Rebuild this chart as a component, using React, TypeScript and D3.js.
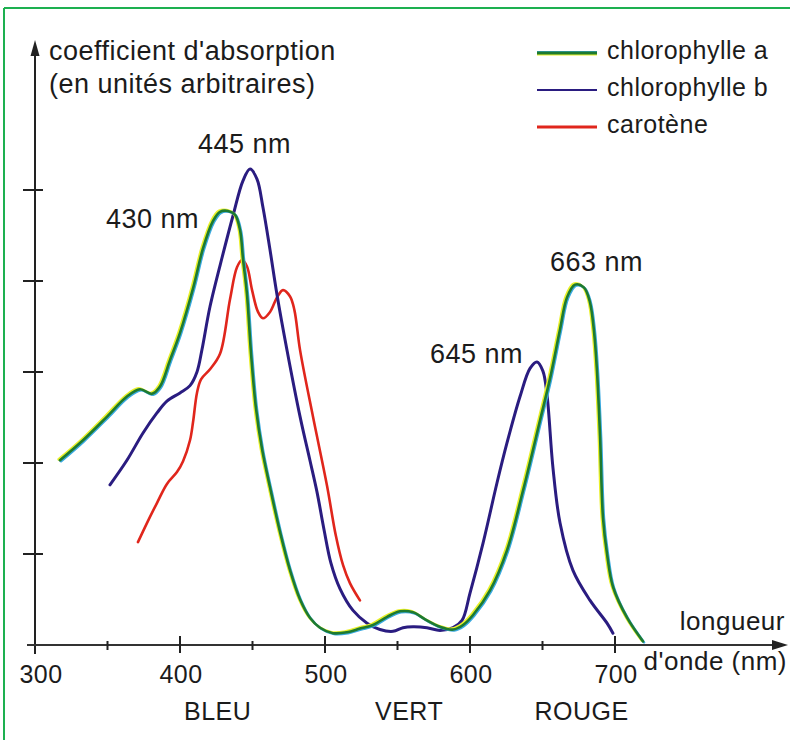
import React from "react";
import * as d3 from "d3";

// wavelength (nm), absorption (arbitrary units)
const chlA: [number, number][] = [
  [317.2, 2.03], [333.1, 2.25], [349.7, 2.51], [363.4, 2.73], [372.4, 2.81],
  [380.7, 2.76], [386.2, 2.84], [393.1, 3.13], [400, 3.43], [409, 3.92],
  [415.9, 4.36], [422.8, 4.66], [427.6, 4.76], [433.1, 4.77], [437.9, 4.73],
  [441.4, 4.56], [443.4, 4.25], [446.2, 3.85], [449.0, 3.2], [452.4, 2.6],
  [456.6, 2.15], [462.1, 1.73], [469, 1.24], [475.9, 0.82], [482.8, 0.5],
  [489.6, 0.3], [496.6, 0.19], [505.5, 0.13], [515.2, 0.14], [524.1, 0.18],
  [533.1, 0.22], [542.8, 0.31], [551.7, 0.37], [560.7, 0.36], [570.3, 0.27],
  [579.3, 0.2], [588.3, 0.17], [595.2, 0.22], [602.1, 0.33], [613.8, 0.6],
  [625.5, 1.04], [636.6, 1.7], [648.3, 2.47], [655.2, 2.93], [662.1, 3.47],
  [666.9, 3.82], [672.4, 3.96], [678.5, 3.93], [682.5, 3.78], [685.5, 3.45],
  [687.6, 3.0], [689.7, 2.29], [691.7, 1.4], [694.5, 1.0], [698.6, 0.64],
  [708.3, 0.3], [719.3, 0.04],
];

const chlB: [number, number][] = [
  [351.7, 1.76], [363.4, 2.03], [374.5, 2.33], [384.1, 2.55], [391, 2.68],
  [400, 2.77], [406.9, 2.85], [411.7, 3.0], [415.2, 3.25], [420.7, 3.72],
  [429.7, 4.3], [436.6, 4.72], [443.4, 5.1], [448.3, 5.23], [453.1, 5.12],
  [457.2, 4.81], [462.1, 4.34], [466.9, 3.85], [473.8, 3.24], [482.8, 2.51],
  [489.6, 2.03], [494.5, 1.68], [499.3, 1.27], [504.1, 0.9], [510.3, 0.62],
  [519.3, 0.38], [529, 0.24], [537.9, 0.17], [546.9, 0.15], [553.8, 0.19],
  [560.7, 0.2], [570.3, 0.19], [579.3, 0.16], [588.3, 0.19], [594.5, 0.27],
  [600, 0.57], [609, 1.12], [618.6, 1.78], [625.5, 2.22], [634.5, 2.73],
  [641.4, 3.04], [646.2, 3.11], [650.3, 3.01], [653.1, 2.75], [657.2, 1.95],
  [662.1, 1.34], [671, 0.82], [682.8, 0.49], [694.5, 0.24], [698.6, 0.13],
];

const carotene: [number, number][] = [
  [371, 1.13], [377.2, 1.34], [384.1, 1.56], [391, 1.77], [397.9, 1.9],
  [402.1, 2.02], [406.9, 2.25], [409, 2.45], [411.7, 2.77], [414.5, 2.92],
  [420.7, 3.03], [427.6, 3.2], [434.5, 3.8], [439.3, 4.15], [442.8, 4.23],
  [446.2, 4.16], [449.7, 3.9], [453.8, 3.66], [457.2, 3.59], [462.1, 3.66],
  [466.9, 3.82], [471, 3.9], [475.9, 3.83], [478.9, 3.68], [482.8, 3.24],
  [491.7, 2.51], [501.4, 1.75], [507.5, 1.2], [512.4, 0.88], [517.2, 0.68],
  [524.1, 0.49],
];

const xTicksMajor = [300, 400, 500, 600, 700];
const xTicksMinor = [350, 450, 550, 650];
const yTicks = [1, 2, 3, 4, 5];

const peakLabels = [
  { text: "430 nm", x: 106, y: 228 },
  { text: "445 nm", x: 198, y: 153 },
  { text: "645 nm", x: 430, y: 363 },
  { text: "663 nm", x: 550, y: 271 },
];

const legendItems = [
  { name: "chlorophylle a", key: "a" },
  { name: "chlorophylle b", key: "b" },
  { name: "carotène", key: "c" },
];

const colorsOf: Record<string, string> = { a: "#1e7a30", b: "#2a1c80", c: "#e0261c" };

const regions = [
  { name: "BLEU", nm: 426 },
  { name: "VERT", nm: 558 },
  { name: "ROUGE", nm: 677 },
];

export default function App() {
  const W = 790, H = 740;
  const x = d3.scaleLinear().domain([300, 700]).range([35, 615]);
  const y = d3.scaleLinear().domain([0, 5]).range([645, 190]);
  const gen = d3
    .line<[number, number]>()
    .x((d) => x(d[0]))
    .y((d) => y(d[1]))
    .curve(d3.curveCatmullRom.alpha(0.5));
  const font = "'Liberation Sans', Arial, Helvetica, sans-serif";
  const axisY = y(0);
  const textStyle = { fontFamily: font, fill: "#1b1b1b", letterSpacing: "0.5px" } as React.CSSProperties;

  return (
    <div style={{ position: "fixed", left: 0, top: 0 }}>
      <svg width={W} height={H} viewBox={`0 0 ${W} ${H}`} style={{ display: "block", background: "#fff" }}>
        {/* frame */}
        <line x1={4} y1={8} x2={W} y2={8} stroke="#1db050" strokeWidth={2} />
        <line x1={4} y1={8} x2={4} y2={H} stroke="#1db050" strokeWidth={2} />

        {/* y axis */}
        <line x1={x(300)} y1={axisY + 9} x2={x(300)} y2={52} stroke="#222" strokeWidth={2} />
        <path d={`M${x(300) - 4.5},${56} L${x(300)},${40} L${x(300) + 4.5},${56} Z`} fill="#222" />
        {yTicks.map((t) => (
          <line key={t} x1={x(300) - 12} x2={x(300) + 8} y1={y(t)} y2={y(t)} stroke="#222" strokeWidth={2} />
        ))}

        {/* x axis */}
        <line x1={27} y1={axisY} x2={775} y2={axisY} stroke="#333" strokeWidth={2.2} />
        <path d={`M${772},${axisY - 5} L${788},${axisY} L${772},${axisY + 5} Z`} fill="#222" />
        {xTicksMajor.slice(1).map((t) => (
          <line key={t} x1={x(t)} x2={x(t)} y1={axisY - 9} y2={axisY + 8} stroke="#222" strokeWidth={2} />
        ))}
        {xTicksMinor.map((t) => (
          <line key={t} x1={x(t)} x2={x(t)} y1={axisY - 4} y2={axisY + 5} stroke="#222" strokeWidth={2} />
        ))}
        {xTicksMajor.map((t) => (
          <text key={t} x={x(t) + (t === 300 ? 6 : 1)} y={683} textAnchor="middle" fontSize={25} style={textStyle}>
            {t}
          </text>
        ))}
        {regions.map((r) => (
          <text key={r.name} x={x(r.nm)} y={720} textAnchor="middle" fontSize={25} style={textStyle}>
            {r.name}
          </text>
        ))}
        <text x={785} y={630} textAnchor="end" fontSize={26} style={textStyle}>longueur</text>
        <text x={787} y={670} textAnchor="end" fontSize={26} style={textStyle}>d'onde (nm)</text>

        {/* y title */}
        <text x={49} y={60} fontSize={27} style={textStyle}>coefficient d'absorption</text>
        <text x={49} y={93} fontSize={27} style={textStyle}>(en unités arbitraires)</text>

        {/* curves */}
        <g fill="none" strokeLinecap="round" strokeLinejoin="round">
          <path d={gen(carotene) || ""} stroke={colorsOf.c} strokeWidth={2.6} />
          <path d={gen(chlB) || ""} stroke={colorsOf.b} strokeWidth={3} />
          <path d={gen(chlA) || ""} stroke="#e9f02a" strokeWidth={2.6} transform="translate(-1.3,-0.9)" />
          <path d={gen(chlA) || ""} stroke="#3aa9e0" strokeWidth={2.4} transform="translate(1.1,1)" />
          <path d={gen(chlA) || ""} stroke={colorsOf.a} strokeWidth={2.6} />
        </g>

        {/* peak labels */}
        {peakLabels.map((p) => (
          <text key={p.text} x={p.x} y={p.y} fontSize={27} style={textStyle}>{p.text}</text>
        ))}

        {/* legend */}
        {legendItems.map((item, i) => {
          const ly = 53 + i * 37;
          return (
            <g key={item.key}>
              {item.key === "a" && (
                <>
                  <line x1={537} x2={597} y1={ly + 1.2} y2={ly + 1.2} stroke="#e9f02a" strokeWidth={2.4} />
                  <line x1={537} x2={597} y1={ly - 1} y2={ly - 1} stroke="#3aa9e0" strokeWidth={2} />
                </>
              )}
              <line x1={537} x2={597} y1={ly} y2={ly} stroke={colorsOf[item.key]} strokeWidth={item.key === "b" ? 2.2 : 3} />
              <text x={607} y={ly + 6} fontSize={25} style={textStyle}>{item.name}</text>
            </g>
          );
        })}
      </svg>
    </div>
  );
}
